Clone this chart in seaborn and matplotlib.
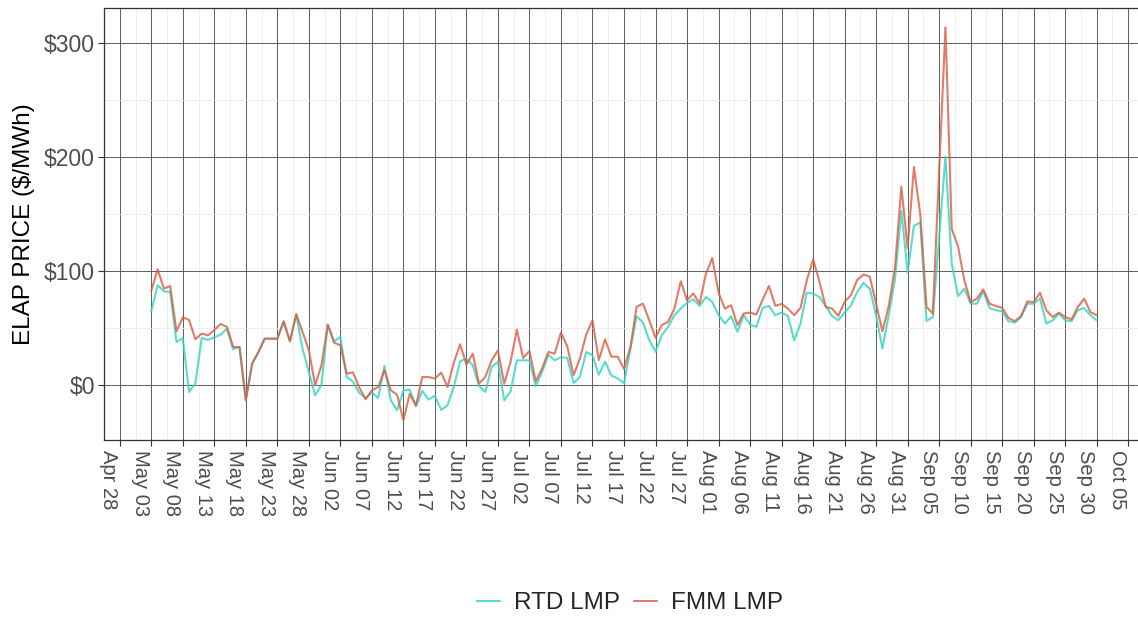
import pandas as pd
import numpy as np
import matplotlib
matplotlib.use('Agg')
import matplotlib.pyplot as plt
import matplotlib.dates as mdates
import matplotlib.transforms as mtransforms
from matplotlib.ticker import FuncFormatter, FixedLocator
import seaborn as sns

# daily prices, May 03 - Sep 30
dates = pd.date_range('2021-05-03', '2021-09-30', freq='D')

rtd_lmp = [64.9, 87.7, 82.5, 81.9, 38.0, 41.5, -5.8, 1.8, 41.5, 39.8,
           42.1, 44.4, 49.7, 31.6, 33.6, -13.2, 19.0, 29.2, 40.9, 40.9,
           40.9, 56.1, 38.6, 62.3, 32.2, 11.7, -8.8, 0.6, 53.2, 38.6,
           42.4, 7.3, 3.2, -6.8, -11.1, -6.4, -11.1, 17.0, -13.2, -21.9,
           -4.4, -3.8, -18.1, -5.0, -12.6, -9.1, -21.6, -17.5, -1.5, 21.1,
           23.4, 17.5, -0.6, -5.8, 16.1, 20.5, -13.2, -5.3, 21.9, 21.9,
           21.9, -0.6, 11.7, 26.9, 21.9, 24.6, 24.0, 2.0, 7.3, 29.2,
           26.4, 9.2, 20.7, 8.5, 6.1, 1.7, 30.9, 60.6, 55.1, 39.6,
           29.4, 44.0, 51.3, 61.5, 67.3, 72.3, 75.5, 69.7, 77.5, 73.2,
           61.5, 54.2, 60.6, 46.9, 61.5, 53.3, 51.3, 67.9, 69.7, 61.5,
           63.8, 60.9, 39.4, 54.2, 81.3, 80.5, 77.5, 69.7, 60.9, 57.1,
           63.8, 70.0, 82.0, 89.9, 84.7, 61.4, 32.3, 61.4, 93.4, 153.1,
           99.2, 140.0, 142.9, 56.5, 59.9, 130.0, 200.5, 106.5, 78.3, 84.7,
           71.6, 71.6, 82.4, 67.8, 65.8, 64.9, 56.2, 55.0, 59.9, 71.6,
           71.6, 76.0, 54.1, 57.0, 62.9, 57.0, 56.2, 65.8, 67.8, 61.4,
           57.0]

fmm_lmp = [82.7, 101.8, 84.8, 87.1, 47.4, 59.6, 57.3, 40.4, 45.3, 43.9,
           48.5, 53.8, 51.2, 33.6, 33.6, -13.2, 19.0, 29.2, 40.9, 40.9,
           40.9, 56.1, 38.6, 62.3, 46.8, 30.7, 0.0, 17.5, 53.2, 37.4,
           35.1, 10.2, 11.4, -1.9, -12.3, -4.4, -1.5, 13.2, -4.4, -8.2,
           -30.7, -7.6, -18.1, 7.3, 7.3, 5.8, 11.1, -1.5, 19.9, 36.0,
           18.1, 27.8, 1.5, 7.3, 21.9, 30.7, 1.5, 20.5, 48.8, 24.0,
           30.1, 3.5, 14.6, 29.2, 27.8, 46.2, 34.2, 8.8, 23.4, 44.4,
           57.0, 22.1, 40.2, 25.1, 25.1, 14.3, 32.9, 68.8, 71.7, 57.1,
           41.7, 52.8, 55.7, 67.3, 91.2, 74.6, 80.5, 71.7, 97.9, 111.6,
           81.3, 67.3, 70.3, 52.8, 63.0, 63.8, 62.1, 75.2, 87.2, 69.7,
           71.4, 67.3, 61.5, 67.9, 92.1, 110.5, 91.2, 68.8, 67.3, 60.9,
           73.2, 79.0, 92.5, 97.2, 95.4, 71.6, 47.4, 69.5, 103.6, 174.3,
           120.2, 191.5, 150.2, 68.7, 62.9, 188.0, 314.0, 137.1, 121.9, 92.0,
           73.0, 76.0, 84.1, 71.6, 69.5, 67.8, 59.1, 56.2, 60.8, 73.6,
           73.0, 81.2, 65.8, 59.9, 63.7, 59.9, 57.9, 68.7, 76.0, 64.3,
           61.4]

series_names = ['RTD LMP', 'FMM LMP']
series_colors = {'RTD LMP': '#31D3C0', 'FMM LMP': '#D95C43'}

df = pd.DataFrame({'date': list(dates) * 2,
                   'price': rtd_lmp + fmm_lmp,
                   'series': ['RTD LMP'] * len(dates) + ['FMM LMP'] * len(dates)})

sns.set_theme(style='white')
plt.rcParams['font.family'] = ['Liberation Sans', 'DejaVu Sans']

fig = plt.figure(figsize=(11.38, 6.17), dpi=100)
ax = fig.add_axes([104 / 1138, 177 / 617, 1040 / 1138, 432 / 617])

sns.lineplot(data=df, x='date', y='price', hue='series', hue_order=series_names,
             palette=series_colors, alpha=0.8, linewidth=1.5, ax=ax)

# axes ranges (ggplot-like 5% expansion)
x0 = mdates.date2num(dates[0]) - 7.5
x1 = mdates.date2num(dates[-1]) + 7.5
ax.set_xlim(x0, x1)
ax.set_ylim(-48, 331)

major_x = pd.date_range('2021-04-28', '2021-10-05', freq='5D')
major_num = mdates.date2num(major_x)
ax.xaxis.set_major_locator(FixedLocator(major_num))
ax.xaxis.set_minor_locator(FixedLocator(major_num[:-1] + 2.5))
ax.set_xticklabels([d.strftime('%b %d') for d in major_x])

ax.yaxis.set_major_locator(FixedLocator([0, 100, 200, 300]))
ax.yaxis.set_minor_locator(FixedLocator([-50, 50, 150, 250]))
ax.yaxis.set_major_formatter(FuncFormatter(lambda v, p: '${:,.0f}'.format(v)))

ax.grid(which='major', color='#5c5c5c', linewidth=0.7)
ax.grid(which='minor', color='#ebebeb', linewidth=0.6)
ax.set_axisbelow(True)

for s in ax.spines.values():
    s.set_color('#333333')
    s.set_linewidth(0.9)

ax.tick_params(axis='both', which='major', length=4.5, width=0.8, color='#333333',
               labelcolor='#4d4d4d', bottom=True, left=True)
ax.tick_params(axis='x', labelsize=14.5, pad=2.5)
ax.tick_params(axis='y', labelsize=16.5, pad=2)
ax.tick_params(which='minor', length=0)

offset = mtransforms.ScaledTranslation(-11 / 100, 0, fig.dpi_scale_trans)
for lbl in ax.get_xticklabels():
    lbl.set_rotation(-90)
    lbl.set_ha('center')
    lbl.set_va('top')
    lbl.set_transform(lbl.get_transform() + offset)

ax.set_xlabel('')
ax.set_ylabel('ELAP PRICE ($/MWh)', fontsize=17.5, color='black')
ax.yaxis.set_label_coords(-0.066, 0.5)

handles, labels = ax.get_legend_handles_labels()
ax.get_legend().remove()
fig.legend(handles, labels, loc='center', bbox_to_anchor=(630 / 1138, 14 / 617),
           ncol=2, frameon=False, fontsize=17.5, handlelength=0.95,
           handletextpad=0.58, columnspacing=0.55)

fig.savefig('out.png', dpi=100)
